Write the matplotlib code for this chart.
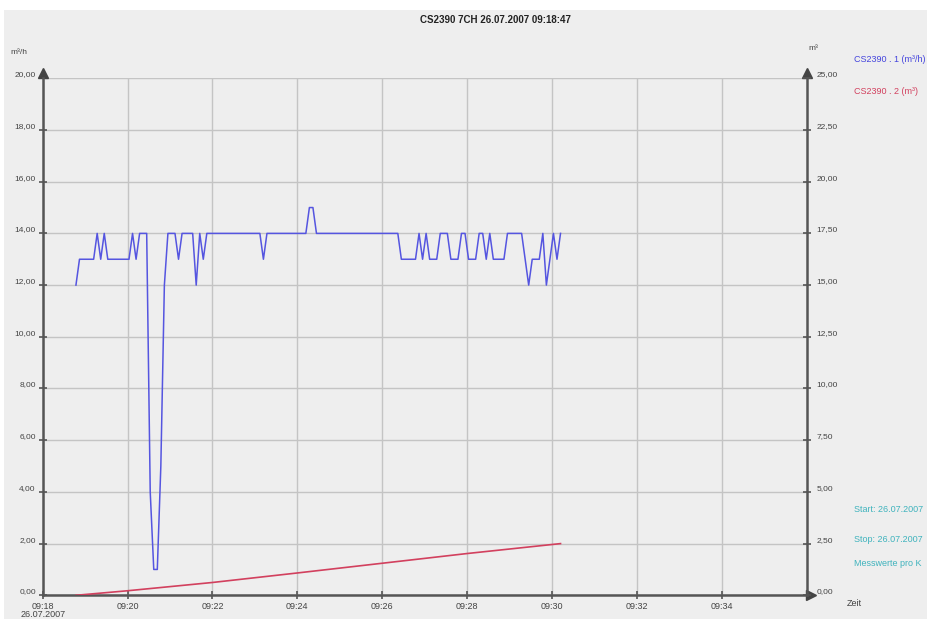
import matplotlib
matplotlib.use('Agg')
import matplotlib.pyplot as plt
import matplotlib.dates as mdates
import matplotlib.transforms as mtrans
from matplotlib.patches import Rectangle
from matplotlib.ticker import FuncFormatter, FixedLocator
from datetime import datetime
import pandas as pd

titulo = 'CS2390 7CH 26.07.2007 09:18:47'
inicio = '2007-07-26 09:18:47'   # primera lectura
paso = '5s'                      # una lectura cada 5 s

# canal 1: caudal (m³/h)
caudal = [12, 13, 13, 13, 13, 13, 14, 13, 14, 13,
          13, 13, 13, 13, 13, 13, 14, 13, 14, 14,
          14, 4, 1, 1, 5, 12, 14, 14, 14, 13,
          14, 14, 14, 14, 12, 14, 13, 14, 14, 14,
          14, 14, 14, 14, 14, 14, 14, 14, 14, 14,
          14, 14, 14, 13, 14, 14, 14, 14, 14, 14,
          14, 14, 14, 14, 14, 14, 15, 15, 14, 14,
          14, 14, 14, 14, 14, 14, 14, 14, 14, 14,
          14, 14, 14, 14, 14, 14, 14, 14, 14, 14,
          14, 14, 13, 13, 13, 13, 13, 14, 13, 14,
          13, 13, 13, 14, 14, 14, 13, 13, 13, 14,
          14, 13, 13, 13, 14, 14, 13, 14, 13, 13,
          13, 13, 14, 14, 14, 14, 14, 13, 12, 13,
          13, 13, 14, 12, 13, 14, 13, 14]

# canal 2: volumen (m³)
vol_horas = ['09:18:47', '09:20:00', '09:22:00', '09:24:00', '09:26:00', '09:28:00', '09:30:12']
volumen = [0.0, 0.22, 0.62, 1.08, 1.55, 2.02, 2.50]

x_ticks = ['09:18', '09:20', '09:22', '09:24', '09:26', '09:28', '09:30', '09:32', '09:34']
y1_ticks = [0, 2, 4, 6, 8, 10, 12, 14, 16, 18, 20]
y2_ticks = [0, 2.5, 5, 7.5, 10, 12.5, 15, 17.5, 20, 22.5, 25]

leyenda = ['CS2390 . 1 (m³/h)', 'CS2390 . 2 (m³)']
info = ['Start: 26.07.2007', 'Stop: 26.07.2007', 'Messwerte pro K']

plt.rcParams['font.family'] = ['Liberation Sans', 'DejaVu Sans']

W, H = 928, 619
fondo = '#EEEEEE'
eje_col = '#555555'
fig = plt.figure(figsize=(W / 100, H / 100), dpi=100, facecolor=fondo)
# franjas blancas arriba e izquierda
fig.patches.append(Rectangle((0, 1 - 10 / H), 1, 10 / H, transform=fig.transFigure,
                             facecolor='white', edgecolor='none', zorder=-5))
fig.patches.append(Rectangle((0, 0), 4 / W, 1, transform=fig.transFigure,
                             facecolor='white', edgecolor='none', zorder=-5))

x0, x1, y_top, y_bot = 42.7, 806.7, 78.3, 595.3
ax = fig.add_axes([x0 / W, (H - y_bot) / H, (x1 - x0) / W, (y_bot - y_top) / H])
ax.set_facecolor(fondo)

tiempos = pd.date_range(inicio, periods=len(caudal), freq=paso).to_pydatetime()
t_vol = [datetime.strptime('2007-07-26 ' + h, '%Y-%m-%d %H:%M:%S') for h in vol_horas]

ax.plot(tiempos, caudal, color='#5555E0', lw=1.1, zorder=4)

ax.set_xlim(datetime(2007, 7, 26, 9, 18), datetime(2007, 7, 26, 9, 36))
ax.set_ylim(0, 20)
xt = [datetime.strptime('2007-07-26 ' + h, '%Y-%m-%d %H:%M') for h in x_ticks]
ax.xaxis.set_major_locator(FixedLocator(mdates.date2num(xt)))
ax.set_xticklabels([x_ticks[0] + '\n26.07.2007'] + x_ticks[1:])
ax.yaxis.set_major_locator(FixedLocator(y1_ticks))
ax.yaxis.set_major_formatter(FuncFormatter(lambda v, p: f'{v:.2f}'.replace('.', ',')))
ax.grid(True, color='#C4C4C4', lw=1, zorder=0)
ax.set_axisbelow(True)

for s in ['top', 'right']:
    ax.spines[s].set_visible(False)
for s in ['left', 'bottom']:
    ax.spines[s].set_color(eje_col)
    ax.spines[s].set_linewidth(1.8)
ax.tick_params(axis='both', direction='inout', length=6, width=1.2, color=eje_col,
               labelsize=6, labelcolor='#444444')
ax.tick_params(axis='y', pad=2)
ax.tick_params(axis='x', pad=1.5, labelsize=6.5)
for lab in ax.get_yticklabels():
    lab.set_verticalalignment('bottom')
for lab in ax.get_xticklabels():
    lab.set_linespacing(0.95)

ax2 = ax.twinx()
ax2.plot(t_vol, volumen, color='#D2405E', lw=1.2, zorder=5)
ax2.set_ylim(0, 25)
ax2.yaxis.set_major_locator(FixedLocator(y2_ticks))
ax2.yaxis.set_major_formatter(FuncFormatter(lambda v, p: f'{v:.2f}'.replace('.', ',')))
for s in ['top', 'left', 'bottom']:
    ax2.spines[s].set_visible(False)
ax2.spines['right'].set_color(eje_col)
ax2.spines['right'].set_linewidth(1.8)
ax2.tick_params(axis='y', direction='inout', length=6, width=1.2, color=eje_col,
                labelsize=6, labelcolor='#444444', pad=4)
for lab in ax2.get_yticklabels():
    lab.set_verticalalignment('bottom')

# flechas de los ejes
arriba = ax.transAxes + mtrans.ScaledTranslation(0, 0.05, fig.dpi_scale_trans)
derecha = ax.transAxes + mtrans.ScaledTranslation(0.04, 0, fig.dpi_scale_trans)
ax.plot([0], [1], marker='^', ms=7, color='#444444', transform=arriba, clip_on=False)
ax.plot([1], [1], marker='^', ms=7, color='#444444', transform=arriba, clip_on=False)
ax.plot([1], [0], marker='>', ms=7, color='#444444', transform=derecha, clip_on=False)

# textos
fig.text(495 / W, 1 - 20 / H, titulo, ha='center', va='center', fontsize=7,
         fontweight='bold', color='#222222',
         family=['Liberation Sans Narrow', 'Liberation Sans', 'DejaVu Sans'])
fig.text(10 / W, 1 - 52 / H, 'm³/h', ha='left', va='center', fontsize=6, color='#444444')
fig.text(808 / W, 1 - 48 / H, 'm³', ha='left', va='center', fontsize=6, color='#444444')
fig.text(847 / W, 1 - 604 / H, 'Zeit', ha='left', va='center', fontsize=6.5, color='#444444')
fig.text(854 / W, 1 - 60 / H, leyenda[0], ha='left', va='center', fontsize=6.5, color='#4444DD')
fig.text(854 / W, 1 - 91 / H, leyenda[1], ha='left', va='center', fontsize=6.5, color='#D2405E')
for txt, yy in zip(info, [510, 539, 564]):
    fig.text(854 / W, 1 - yy / H, txt, ha='left', va='center', fontsize=6.5, color='#3FB3BD')

fig.savefig('out.png', dpi=100, facecolor=fondo)
